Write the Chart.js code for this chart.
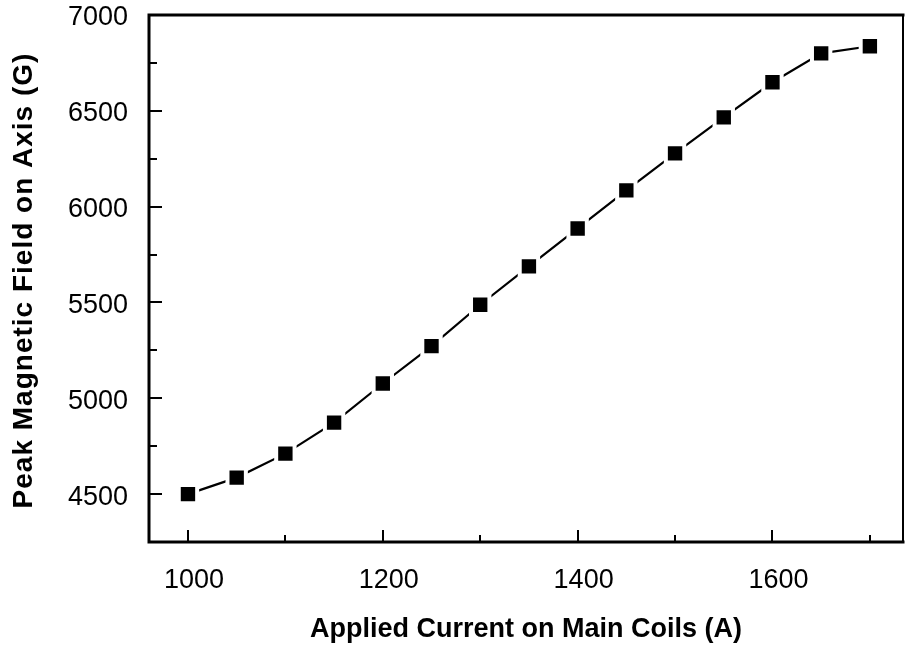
<!DOCTYPE html>
<html>
<head>
<meta charset="utf-8">
<script src="https://cdn.jsdelivr.net/npm/chart.js@4.4.1/dist/chart.umd.min.js"></script>
<style>
  html, body { margin: 0; padding: 0; background: #fff; }
  #wrap { width: 906px; height: 645px; position: relative; }
</style>
</head>
<body>
<div id="wrap"><canvas id="c" width="906" height="645"></canvas></div>
<script>
// Data
const currentA = [1000, 1050, 1100, 1150, 1200, 1250, 1300, 1350, 1400, 1450, 1500, 1550, 1600, 1650, 1700];
const peakFieldG = [4500, 4586, 4711, 4873, 5077, 5272, 5488, 5688, 5886, 6085, 6278, 6466, 6649, 6800, 6837];

const xTitle = 'Applied Current on Main Coils (A)';
const yTitle = 'Peak Magnetic Field on Axis (G)';
const xMin = 960, xMax = 1734, xMinorStep = 100, xMajorStep = 200;
const yMin = 4250, yMax = 7000, yMinorStep = 250, yMajorStep = 500;

const FONT = "'Liberation Sans', Arial, Helvetica, sans-serif";

const framePlugin = {
  id: 'frameAndTicks',
  afterDatasetsDraw(chart) {
    const ctx = chart.ctx;
    const a = chart.chartArea;
    ctx.save();
    ctx.strokeStyle = '#000';
    ctx.lineCap = 'square';
    ctx.lineWidth = 3;
    ctx.beginPath();
    ctx.moveTo(a.left, a.bottom); ctx.lineTo(a.left, a.top); ctx.lineTo(a.right, a.top);
    ctx.moveTo(a.left, a.bottom); ctx.lineTo(a.right, a.bottom);
    ctx.stroke();
    ctx.lineWidth = 2;
    ctx.beginPath();
    ctx.moveTo(a.right, a.top); ctx.lineTo(a.right, a.bottom);
    ctx.stroke();
    ctx.lineWidth = 2;
    ctx.lineCap = 'butt';
    const xs = chart.scales.x, ys = chart.scales.y;
    xs.ticks.forEach(t => {
      if (Math.abs(t.value % xMinorStep) > 1e-6) return;
      const major = Math.abs(t.value % xMajorStep) < 1e-6;
      const px = Math.round(xs.getPixelForValue(t.value));
      ctx.beginPath();
      ctx.moveTo(px, a.bottom);
      ctx.lineTo(px, a.bottom - (major ? 12 : 7));
      ctx.stroke();
    });
    ys.ticks.forEach(t => {
      if (Math.abs(t.value % yMinorStep) > 1e-6) return;
      const major = Math.abs(t.value % yMajorStep) < 1e-6;
      const py = Math.round(ys.getPixelForValue(t.value));
      ctx.beginPath();
      ctx.moveTo(a.left, py);
      ctx.lineTo(a.left + (major ? 13 : 8), py);
      ctx.stroke();
    });
    // y-axis title (drawn with slight letter spacing like the original)
    ctx.save();
    ctx.translate(24, (a.top + a.bottom) / 2 + 2);
    ctx.rotate(-Math.PI / 2);
    ctx.font = 'bold 28px ' + FONT;
    ctx.fillStyle = '#000';
    ctx.textAlign = 'center';
    ctx.textBaseline = 'middle';
    try { ctx.letterSpacing = '1px'; } catch (e) {}
    ctx.fillText(yTitle, 0, 0);
    ctx.restore();
    ctx.restore();
  }
};

new Chart(document.getElementById('c'), {
  type: 'line',
  data: {
    datasets: [{
      data: currentA.map((x, i) => ({ x: x, y: peakFieldG[i] })),
      borderColor: '#000',
      borderWidth: 2.2,
      tension: 0,
      fill: false,
      pointStyle: 'rect',
      pointRadius: 13,
      pointBackgroundColor: '#000',
      pointBorderColor: '#fff',
      pointBorderWidth: 4,
      pointHoverRadius: 13,
      clip: false
    }]
  },
  options: {
    responsive: false,
    animation: false,
    devicePixelRatio: 1,
    layout: { autoPadding: false, padding: { top: 15, right: 3, bottom: 0, left: 0 } },
    plugins: { legend: { display: false }, tooltip: { enabled: false } },
    scales: {
      x: {
        type: 'linear',
        min: xMin, max: xMax,
        grid: { display: false, drawTicks: false },
        border: { display: false },
        ticks: {
          stepSize: xMinorStep,
          includeBounds: false,
          autoSkip: false,
          maxRotation: 0,
          padding: 22,
          labelOffset: 6,
          color: '#000',
          font: { family: FONT, size: 27 },
          callback: v => (v % xMajorStep === 0 ? String(v) : '')
        },
        title: {
          display: true,
          text: xTitle,
          color: '#000',
          font: { family: FONT, size: 27, weight: 'bold', lineHeight: 1 },
          padding: { top: 0, bottom: 2 }
        },
        afterFit(scale) { scale.height = 103; scale.paddingLeft = 0; scale.paddingRight = 0; }
      },
      y: {
        type: 'linear',
        min: yMin, max: yMax,
        grid: { display: false, drawTicks: false },
        border: { display: false },
        ticks: {
          stepSize: yMinorStep,
          includeBounds: false,
          autoSkip: false,
          padding: 21,
          labelOffset: 3,
          color: '#000',
          font: { family: FONT, size: 27 },
          callback: v => (v % yMajorStep === 0 ? String(v) : '')
        },
        title: { display: false, text: yTitle },
        afterFit(scale) { scale.width = 149; scale.paddingTop = 0; scale.paddingBottom = 0; }
      }
    }
  },
  plugins: [framePlugin]
});
</script>
</body>
</html>
